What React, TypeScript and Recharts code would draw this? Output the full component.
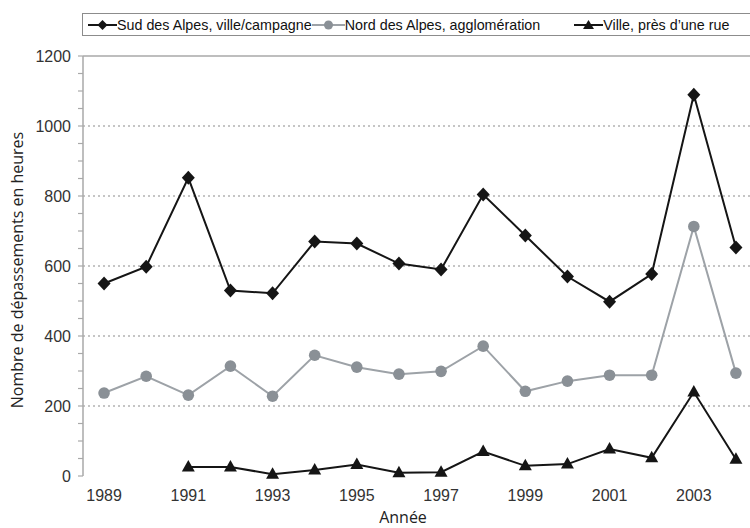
import React from 'react';
import { LineChart, Line, XAxis, YAxis, ReferenceLine, Legend } from 'recharts';

const years = [1989, 1990, 1991, 1992, 1993, 1994, 1995, 1996, 1997, 1998, 1999, 2000, 2001, 2002, 2003, 2004];
const sudValues = [550, 598, 852, 530, 522, 670, 664, 607, 590, 804, 687, 570, 498, 577, 1089, 653];
const nordValues = [237, 285, 231, 314, 228, 345, 311, 291, 299, 371, 242, 271, 288, 288, 713, 294];
const villeValues = [null, null, 26, 26, 5, 17, 33, 9, 11, 70, 29, 34, 77, 52, 240, 48];

const seriesNames = ['Sud des Alpes, ville/campagne', 'Nord des Alpes, agglomération', 'Ville, près d’une rue'];

const yearLabels = [1989, 1991, 1993, 1995, 1997, 1999, 2001, 2003];
const yearTickMarks = [1989.5, 1990.5, 1991.5, 1992.5, 1993.5, 1994.5, 1995.5, 1996.5, 1997.5, 1998.5, 1999.5, 2000.5, 2001.5, 2002.5, 2003.5];
const yTicks = [0, 50, 100, 150, 200, 250, 300, 350, 400, 450, 500, 550, 600, 650, 700, 750, 800, 850, 900, 950, 1000, 1050, 1100, 1150, 1200];
const yLabels = [0, 200, 400, 600, 800, 1000, 1200];
const gridValues = [200, 400, 600, 800, 1000];

const data = years.map((year, i) => ({
  year,
  sud: sudValues[i],
  nord: nordValues[i],
  ville: villeValues[i],
}));

const DARK = '#151515';
const GREY_DOT = '#8a9096';
const GREY_LINE = '#9da2a7';
const AXIS = '#a9a9a9';
const TICK_FONT = '"Liberation Sans", Arial, sans-serif';
const TITLE_FONT = '"Open Sans", "Noto Sans", sans-serif';

// marker shapes, drawn around the point the library hands us
const Diamond = (props: any) => {
  const { cx, cy, index } = props;
  if (cx == null || cy == null) return <g key={`d-${index}`} />;
  return (
    <path key={`d-${index}`} d={`M${cx},${cy - 7} L${cx + 6.5},${cy} L${cx},${cy + 7} L${cx - 6.5},${cy} Z`} fill={DARK} />
  );
};

const Circle = (props: any) => {
  const { cx, cy, index } = props;
  if (cx == null || cy == null) return <g key={`c-${index}`} />;
  return <circle key={`c-${index}`} cx={cx} cy={cy} r={5.8} fill={GREY_DOT} />;
};

const Triangle = (props: any) => {
  const { cx, cy, index, value } = props;
  if (cx == null || cy == null || value == null) return <g key={`t-${index}`} />;
  return (
    <path key={`t-${index}`} d={`M${cx},${cy - 7} L${cx + 6.5},${cy + 4.5} L${cx - 6.5},${cy + 4.5} Z`} fill={DARK} />
  );
};

const YTick = (props: any) => {
  const { x, y, payload } = props;
  if (!yLabels.includes(payload.value)) return <g />;
  return (
    <text x={x} y={y} dy="0.36em" textAnchor="end" fontSize={16} fill="#333" fontFamily={TICK_FONT}>
      {payload.value}
    </text>
  );
};

const LegendIcon = ({ kind, width }: { kind: string; width: number }) => {
  const mid = width / 2;
  return (
    <svg width={width} height={14} style={{ display: 'block' }}>
      <line x1={0} y1={7} x2={width} y2={7} stroke={kind === 'circle' ? GREY_LINE : DARK} strokeWidth={2} />
      {kind === 'diamond' && <path d={`M${mid},2 L${mid + 5},7 L${mid},12 L${mid - 5},7 Z`} fill={DARK} />}
      {kind === 'circle' && <circle cx={mid} cy={7} r={4.5} fill={GREY_DOT} />}
      {kind === 'triangle' && <path d={`M${mid},2 L${mid + 5.5},11 L${mid - 5.5},11 Z`} fill={DARK} />}
    </svg>
  );
};

const renderLegend = () => (
  <div
    style={{
      display: 'flex',
      alignItems: 'center',
      height: 23,
      boxSizing: 'border-box',
      border: '1.5px solid #8c8c8c',
      paddingLeft: 5,
      fontFamily: TICK_FONT,
      fontSize: 14.3,
      color: '#111',
      background: '#fff',
      whiteSpace: 'nowrap',
    }}
  >
    <LegendIcon kind="diamond" width={29} />
    <span>{seriesNames[0]}</span>
    <LegendIcon kind="circle" width={33} />
    <span>{seriesNames[1]}</span>
    <span style={{ width: 34 }} />
    <LegendIcon kind="triangle" width={29} />
    <span>{seriesNames[2]}</span>
  </div>
);

export default function App() {
  return (
    <div style={{ position: 'absolute', left: 0, top: 0, width: 750, height: 528, overflow: 'hidden', background: '#fff' }}>
      <LineChart width={770} height={528} data={data} margin={{ top: 56, right: 13, left: 0, bottom: 0 }}>
        <XAxis
          xAxisId="marks"
          type="number"
          dataKey="year"
          domain={[1988.5, 2004.5]}
          ticks={yearTickMarks}
          tick={false}
          height={0}
          tickSize={6}
          axisLine={{ stroke: AXIS, strokeWidth: 1.5 }}
          tickLine={{ stroke: AXIS, strokeWidth: 1.3 }}
        />
        <XAxis
          type="number"
          dataKey="year"
          domain={[1988.5, 2004.5]}
          ticks={yearLabels}
          height={52}
          axisLine={false}
          tickLine={false}
          tickSize={6}
          tickMargin={8}
          tick={{ fontSize: 16, fill: '#333', fontFamily: TICK_FONT }}
        />
        <YAxis
          type="number"
          domain={[0, 1200]}
          ticks={yTicks}
          width={83}
          interval={0}
          tickSize={5}
          tickMargin={7}
          axisLine={{ stroke: AXIS, strokeWidth: 1.5 }}
          tickLine={{ stroke: AXIS, strokeWidth: 1.2 }}
          tick={<YTick />}
        />
        {gridValues.map(v => (
          <ReferenceLine key={v} y={v} stroke="#b3b3b3" strokeWidth={1.3} strokeDasharray="2 3" />
        ))}
        <ReferenceLine y={1200} stroke={AXIS} strokeWidth={1.5} />
        <Legend verticalAlign="middle" content={renderLegend} wrapperStyle={{ left: 82, top: 13, width: 700 }} />
        <Line
          type="linear"
          dataKey="sud"
          name={seriesNames[0]}
          stroke={DARK}
          strokeWidth={2}
          dot={Diamond}
          activeDot={false}
          isAnimationActive={false}
        />
        <Line
          type="linear"
          dataKey="nord"
          name={seriesNames[1]}
          stroke={GREY_LINE}
          strokeWidth={2}
          dot={Circle}
          activeDot={false}
          isAnimationActive={false}
        />
        <Line
          type="linear"
          dataKey="ville"
          name={seriesNames[2]}
          stroke={DARK}
          strokeWidth={2}
          dot={Triangle}
          activeDot={false}
          isAnimationActive={false}
        />
      </LineChart>
      <div
        style={{
          position: 'absolute',
          left: 17,
          top: 270,
          transform: 'translate(-50%, -50%) rotate(-90deg)',
          whiteSpace: 'nowrap',
          fontFamily: TITLE_FONT,
          fontSize: 16,
          color: '#222',
        }}
      >
        Nombre de dépassements en heures
      </div>
      <div
        style={{
          position: 'absolute',
          left: 403,
          top: 509,
          lineHeight: '16px',
          transform: 'translateX(-50%)',
          whiteSpace: 'nowrap',
          fontFamily: TITLE_FONT,
          fontSize: 16,
          color: '#222',
        }}
      >
        Année
      </div>
    </div>
  );
}
